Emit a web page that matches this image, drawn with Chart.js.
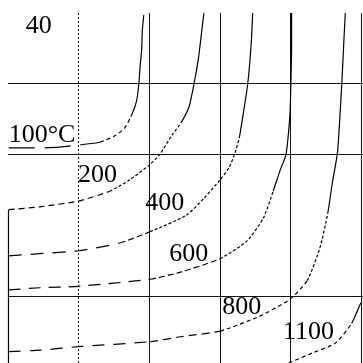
<!DOCTYPE html>
<html>
<head>
<meta charset="utf-8">
<script src="https://cdn.jsdelivr.net/npm/chart.js@4"></script>
<style>
  html,body{margin:0;padding:0;background:#fff;}
  #wrap{width:363px;height:363px;}
</style>
</head>
<body>
<div id="wrap"><canvas id="chart" width="363" height="363"></canvas></div>
<script>
// =========================
// DATA
// =========================

// grid positions (x in columns, y counted downward from the top)
const xSolidGrid = [2, 3, 4, 5];
const xDottedGrid = [1];
const yGrid = [1, 2, 4];

// isotherms
const c100X = [0.01, 0.45, 0.73, 0.99, 1.30, 1.51, 1.65, 1.76, 1.82, 1.85, 1.87, 1.89, 1.90, 1.92];
const c100Y = [1.90, 1.90, 1.89, 1.86, 1.82, 1.73, 1.62, 1.41, 1.23, 1.00, 0.73, 0.52, 0.24, 0.03];

const c200X = [0.01, 0.45, 0.99, 1.44, 1.72, 2.00, 2.14, 2.32, 2.45, 2.56, 2.63, 2.69, 2.72, 2.77];
const c200Y = [2.77, 2.73, 2.65, 2.51, 2.35, 2.14, 2.00, 1.72, 1.54, 1.32, 1.00, 0.66, 0.42, 0];

const c400X = [0.01, 0.45, 0.99, 1.58, 2.01, 2.52, 2.77, 3.00, 3.13, 3.21, 3.27, 3.32, 3.39, 3.44, 3.46];
const c400Y = [3.42, 3.39, 3.35, 3.24, 3.08, 2.85, 2.61, 2.35, 2.17, 1.97, 1.76, 1.46, 1.00, 0.42, 0];

const c600X = [0.01, 0.45, 0.99, 2.01, 2.44, 3.00, 3.38, 3.61, 3.75, 3.85, 3.93, 3.97, 3.99, 4.00, 4.01, 4.01];
const c600Y = [3.90, 3.87, 3.85, 3.75, 3.65, 3.46, 3.21, 2.89, 2.51, 2.21, 2.00, 1.65, 1.37, 1.00, 0.52, 0];

const c800X = [0.01, 0.45, 0.99, 2.01, 2.44, 3.00, 3.56, 3.99, 4.23, 4.41, 4.52, 4.59, 4.66, 4.72, 4.75, 4.77];
const c800Y = [4.77, 4.75, 4.70, 4.63, 4.56, 4.48, 4.27, 4.03, 3.77, 3.31, 2.83, 2.37, 1.96, 1.00, 0.38, 0];

const c1100X = [3.97, 4.30, 4.63, 4.86, 4.99];
const c1100Y = [4.93, 4.79, 4.65, 4.37, 4.08];

// left bracket line
const edgeX = [0.007, 0.007];
const edgeY = [2.77, 4.93];

// text labels
const labelText = ["40", "100°C", "200", "400", "600", "800", "1100"];
const labelX = [0.25, 0.01, 0.99, 1.94, 2.28, 3.03, 3.89];
const labelY = [0.28, 1.82, 2.38, 2.77, 3.49, 4.24, 4.59];

// =========================
// STYLES
// =========================

// dash pattern per stretch: [up to x, dash]
const dashStyles = [
  [[1, [26, 10]], [1.7, [4, 3]]],
  [[1, [6, 4]], [2.45, [3, 2]]],
  [[1, [13, 9]], [2, [6, 3]], [3.25, [3, 2]]],
  [[1, [12, 8]], [2, [10, 6]], [3, [6, 3]], [3.7, [3, 2]]],
  [[2, [12, 9]], [3, [8, 5]], [4, [4, 3]], [4.45, [3, 2]]],
  [[4.7, [4, 3]]]
];

function pts(xs, ys){
  return xs.map((x, i) => ({x: x, y: ys[i]}));
}

function dashFor(styles){
  return ctx => {
    const x = ctx.p0.parsed.x;
    for(const s of styles){
      if(x < s[0]) return s[1];
    }
    return [];
  };
}

const curves = [
  pts(c100X, c100Y), pts(c200X, c200Y), pts(c400X, c400Y),
  pts(c600X, c600Y), pts(c800X, c800Y), pts(c1100X, c1100Y)
];

const datasets = curves.map((d, i) => ({
  data: d,
  showLine: true,
  borderColor: "#000",
  borderWidth: 1.2,
  pointRadius: 0,
  tension: 0.2,
  clip: false,
  segment: {borderDash: dashFor(dashStyles[i])}
}));

datasets.push({
  data: pts(edgeX, edgeY),
  showLine: true,
  borderColor: "#000",
  borderWidth: 1.2,
  pointRadius: 0,
  clip: false
});

// =========================
// LABELS
// =========================

const labelPlugin = {
  id: "labels",
  afterDatasetsDraw(chart){
    const ctx = chart.ctx;
    const sx = chart.scales.x;
    const sy = chart.scales.y;
    ctx.save();
    ctx.fillStyle = "#000";
    ctx.font = '26px "Liberation Serif", "DejaVu Serif", serif';
    ctx.textAlign = "left";
    ctx.textBaseline = "alphabetic";
    labelText.forEach((t, i) => {
      ctx.fillText(t, sx.getPixelForValue(labelX[i]), sy.getPixelForValue(labelY[i]));
    });
    ctx.restore();
  }
};

// =========================
// CHART
// =========================

function setTicks(values){
  return scale => { scale.ticks = values.map(v => ({value: v})); };
}

new Chart(document.getElementById("chart"), {
  type: "scatter",
  data: {datasets: datasets},
  options: {
    responsive: false,
    animation: false,
    layout: {padding: {left: 8, top: 13, right: 0, bottom: 0}},
    plugins: {legend: {display: false}, tooltip: {enabled: false}},
    scales: {
      x: {
        type: "linear", min: 0, max: 5.02,
        afterBuildTicks: setTicks(xSolidGrid),
        ticks: {display: false},
        grid: {color: "#111", lineWidth: 1, drawTicks: false},
        border: {display: false}
      },
      x2: {
        type: "linear", axis: "x", position: "top", min: 0, max: 5.02,
        afterBuildTicks: setTicks(xDottedGrid),
        ticks: {display: false},
        grid: {color: "#111", lineWidth: 1, drawTicks: false},
        border: {display: false, dash: [2, 2]}
      },
      y: {
        type: "linear", reverse: true, min: 0, max: 4.93,
        afterBuildTicks: setTicks(yGrid),
        ticks: {display: false},
        grid: {color: "#111", lineWidth: 1, drawTicks: false},
        border: {display: false}
      }
    }
  },
  plugins: [labelPlugin]
});
</script>
</body>
</html>
